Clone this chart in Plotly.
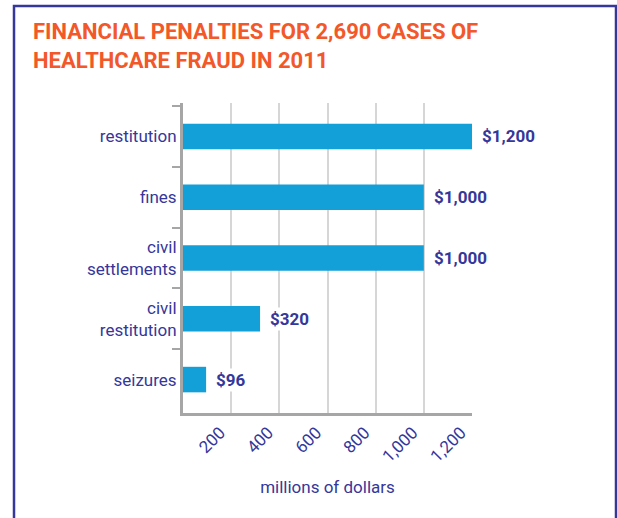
import plotly.graph_objects as go

categories = ["restitution", "fines", "civil<br>settlements", "civil<br>restitution", "seizures"]
values = [1200, 1000, 1000, 320, 96]
value_labels = ["$1,200", "$1,000", "$1,000", "$320", "$96"]
x_ticks = [200, 400, 600, 800, 1000, 1200]
x_tick_labels = ["200", "400", "600", "800", "1,000", "1,200"]

NAVY = "#35379a"
ORANGE = "#f2582a"
BAR = "#139fd8"
FONT = "Roboto, sans-serif"

fig = go.Figure(go.Bar(
    y=categories, x=values, orientation="h",
    marker=dict(color=BAR, line=dict(width=0)),
    width=0.42, hoverinfo="skip",
))

L, R, T, B = 183, 472, 103, 413
W, H = 617, 518
pw, ph = R - L, B - T

def px_x(x):
    return (x - L) / pw

def px_y(y):
    return (B - y) / ph

annotations = [
    dict(x=v, y=c, text=t, xref="x", yref="y", xanchor="left", yanchor="middle",
         xshift=8, showarrow=False,
         font=dict(family=FONT, size=17, color=NAVY, weight="bold"),
         bgcolor="white")
    for c, v, t in zip(categories, values, value_labels)
]
annotations.append(dict(
    text="FINANCIAL PENALTIES FOR 2,690 CASES OF<br>HEALTHCARE FRAUD IN 2011",
    xref="paper", yref="paper", x=px_x(31), y=px_y(17), xanchor="left", yanchor="top",
    align="left", showarrow=False,
    font=dict(family=FONT, size=22, color=ORANGE, weight="bold"),
))

fig.update_layout(
    width=W, height=H,
    margin=dict(l=L, r=W - R, t=T, b=H - B),
    paper_bgcolor="white", plot_bgcolor="white",
    showlegend=False,
    font=dict(family=FONT, color=NAVY),
    xaxis=dict(
        range=[0, 1200], tickvals=x_ticks, ticktext=x_tick_labels,
        tickangle=-45, tickfont=dict(size=17, color=NAVY), ticklabelshift=-11,
        showgrid=True, gridcolor="#d6d6d6", gridwidth=2,
        showline=True, linecolor="#a6a6a6", linewidth=3,
        zeroline=False, ticks="", fixedrange=True,
        title=dict(text="millions of dollars", font=dict(size=17, color=NAVY), standoff=16),
    ),
    yaxis=dict(
        autorange=False, range=[4.55, -0.55],
        tickfont=dict(size=17, color=NAVY),
        showline=True, linecolor="#a6a6a6", linewidth=3,
        ticks="outside", tickson="boundaries", ticklen=8, tickcolor="#a6a6a6", tickwidth=1.5,
        showgrid=False, zeroline=False, fixedrange=True,
    ),
    annotations=annotations,
    shapes=[dict(
        type="rect", xref="paper", yref="paper",
        x0=px_x(14), x1=px_x(616), y0=px_y(530), y1=px_y(6),
        line=dict(color=NAVY, width=2.5), fillcolor="rgba(0,0,0,0)", layer="below",
    )],
)

fig.write_html("out.html", config={"displayModeBar": False},
               post_script="document.body.style.margin='0';document.body.style.overflow='hidden';")
